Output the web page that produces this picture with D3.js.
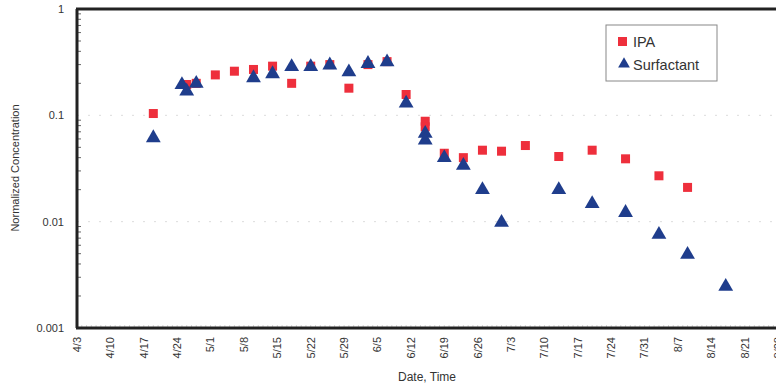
<!DOCTYPE html>
<html>
<head>
<meta charset="utf-8">
<script src="https://cdn.jsdelivr.net/npm/d3@7"></script>
<style>
  body { margin: 0; background: #fff; }
  svg text { font-family: "Liberation Sans", Arial, sans-serif; fill: #333; }
</style>
</head>
<body>
<svg id="chart" width="776" height="386"></svg>
<script>
// values (dates as "m/d", concentrations normalized)
var ipaDates = ["4/19","4/26","4/28","5/2","5/6","5/10","5/14","5/18","5/22","5/26","5/30","6/3","6/7",
                "6/11","6/15","6/15","6/19","6/23","6/27","7/1","7/6","7/13","7/20","7/27","8/3","8/9"];
var ipaValues = [0.104,0.195,0.2,0.24,0.26,0.27,0.29,0.2,0.29,0.3,0.18,0.3,0.32,
                 0.157,0.088,0.078,0.044,0.040,0.047,0.046,0.052,0.041,0.047,0.039,0.027,0.021];

var surfDates = ["4/19","4/25","4/26","4/28","5/10","5/14","5/18","5/22","5/26","5/30","6/3","6/7",
                 "6/11","6/15","6/15","6/19","6/23","6/27","7/1","7/13","7/20","7/27","8/3","8/9","8/17"];
var surfValues = [0.060,0.19,0.165,0.195,0.22,0.24,0.28,0.28,0.29,0.25,0.30,0.31,
                  0.127,0.066,0.057,0.039,0.033,0.0195,0.0096,0.0195,0.0144,0.0119,0.0074,0.0048,0.0024];

var tickLabels = ["4/3","4/10","4/17","4/24","5/1","5/8","5/15","5/22","5/29","6/5","6/12",
                  "6/19","6/26","7/3","7/10","7/17","7/24","7/31","8/7","8/14","8/21","8/28"];
var yTicks = [0.001, 0.01, 0.1, 1];
var seriesNames = ["IPA", "Surfactant"];

var YEAR = 2003;
function toDate(s) {
    var p = s.split("/");
    return new Date(YEAR, +p[0] - 1, +p[1]);
}

var svg = d3.select("#chart");
var plotLeft = 77, plotTop = 9, plotBottom = 328;

var start = toDate("4/3");
var x = d3.scaleTime()
    .domain([start, d3.timeDay.offset(start, 154)])
    .range([plotLeft, plotLeft + 154 * 4.77]);
var y = d3.scaleLog().domain([0.001, 1]).range([plotBottom, plotTop]);

// faint dotted gridlines
svg.append("g").selectAll("line")
    .data([0.01, 0.1])
    .enter().append("line")
    .attr("x1", plotLeft).attr("x2", 776)
    .attr("y1", function(d){ return y(d); })
    .attr("y2", function(d){ return y(d); })
    .attr("stroke", "#dcdcdc")
    .attr("stroke-dasharray", "2,9");

// minor y ticks (log)
var minors = [];
[0.001, 0.01, 0.1].forEach(function(b){
    for (var k = 2; k <= 9; k++) minors.push(b * k);
});
svg.append("g").selectAll("line")
    .data(minors)
    .enter().append("line")
    .attr("x1", plotLeft).attr("x2", plotLeft + 4)
    .attr("y1", function(d){ return y(d); })
    .attr("y2", function(d){ return y(d); })
    .attr("stroke", "#666").attr("stroke-width", 1);

// minor x ticks (daily)
var days = d3.timeDay.range(start, d3.timeDay.offset(start, 150));
svg.append("g").selectAll("line")
    .data(days)
    .enter().append("line")
    .attr("x1", function(d){ return x(d); })
    .attr("x2", function(d){ return x(d); })
    .attr("y1", plotBottom).attr("y2", plotBottom - 3)
    .attr("stroke", "#bbb").attr("stroke-width", 0.6);

// frame: left, bottom, top
svg.append("line").attr("x1", plotLeft).attr("x2", plotLeft).attr("y1", plotTop).attr("y2", plotBottom)
    .attr("stroke", "#222").attr("stroke-width", 3);
svg.append("line").attr("x1", plotLeft - 1).attr("x2", 776).attr("y1", plotBottom).attr("y2", plotBottom)
    .attr("stroke", "#222").attr("stroke-width", 3);
svg.append("line").attr("x1", plotLeft - 1).attr("x2", 776).attr("y1", plotTop).attr("y2", plotTop)
    .attr("stroke", "#222").attr("stroke-width", 3);

// y tick labels
svg.append("g").selectAll("text")
    .data(yTicks)
    .enter().append("text")
    .attr("x", 64)
    .attr("y", function(d){ return y(d); })
    .attr("dy", "0.35em")
    .attr("text-anchor", "end")
    .attr("font-size", 11)
    .text(function(d){ return d3.format("")(d); });

// x tick labels (rotated)
svg.append("g").selectAll("text")
    .data(tickLabels)
    .enter().append("text")
    .attr("transform", function(d){ return "translate(" + x(toDate(d)) + "," + 337 + ") rotate(-90)"; })
    .attr("dy", "0.35em")
    .attr("text-anchor", "end")
    .attr("font-size", 11)
    .text(function(d){ return d; });

// axis titles
svg.append("text")
    .attr("transform", "translate(19,168) rotate(-90)")
    .attr("text-anchor", "middle")
    .attr("font-size", 11)
    .text("Normalized Concentration");
svg.append("text")
    .attr("x", 427).attr("y", 381)
    .attr("text-anchor", "middle")
    .attr("font-size", 12)
    .text("Date, Time");

var RED = "#ee2f3c", BLUE = "#1f3d8c";
var triangle = d3.symbol().type(d3.symbolTriangle).size(95);

// IPA squares
var ipa = ipaDates.map(function(d, i){ return {date: toDate(d), v: ipaValues[i]}; });
svg.append("g").selectAll("rect")
    .data(ipa)
    .enter().append("rect")
    .attr("x", function(d){ return x(d.date) - 4.5; })
    .attr("y", function(d){ return y(d.v) - 4.5; })
    .attr("width", 9).attr("height", 9)
    .attr("fill", RED);

// surfactant triangles
var surf = surfDates.map(function(d, i){ return {date: toDate(d), v: surfValues[i]}; });
svg.append("g").selectAll("path")
    .data(surf)
    .enter().append("path")
    .attr("d", triangle)
    .attr("transform", function(d){ return "translate(" + x(d.date) + "," + (y(d.v) - 1) + ")"; })
    .attr("fill", BLUE);

// legend
var lg = svg.append("g").attr("transform", "translate(606,25)");
lg.append("rect").attr("width", 111).attr("height", 56)
    .attr("fill", "#fff").attr("stroke", "#888").attr("stroke-width", 1);
lg.append("rect").attr("x", 12).attr("y", 12).attr("width", 9).attr("height", 9).attr("fill", RED);
lg.append("path").attr("d", d3.symbol().type(d3.symbolTriangle).size(60))
    .attr("transform", "translate(18,39)").attr("fill", BLUE);
lg.selectAll("text.lab")
    .data(seriesNames)
    .enter().append("text")
    .attr("class", "lab")
    .attr("x", 27)
    .attr("y", function(d, i){ return 22 + i * 23; })
    .attr("font-size", 14.5)
    .text(function(d){ return d; });
</script>
</body>
</html>
